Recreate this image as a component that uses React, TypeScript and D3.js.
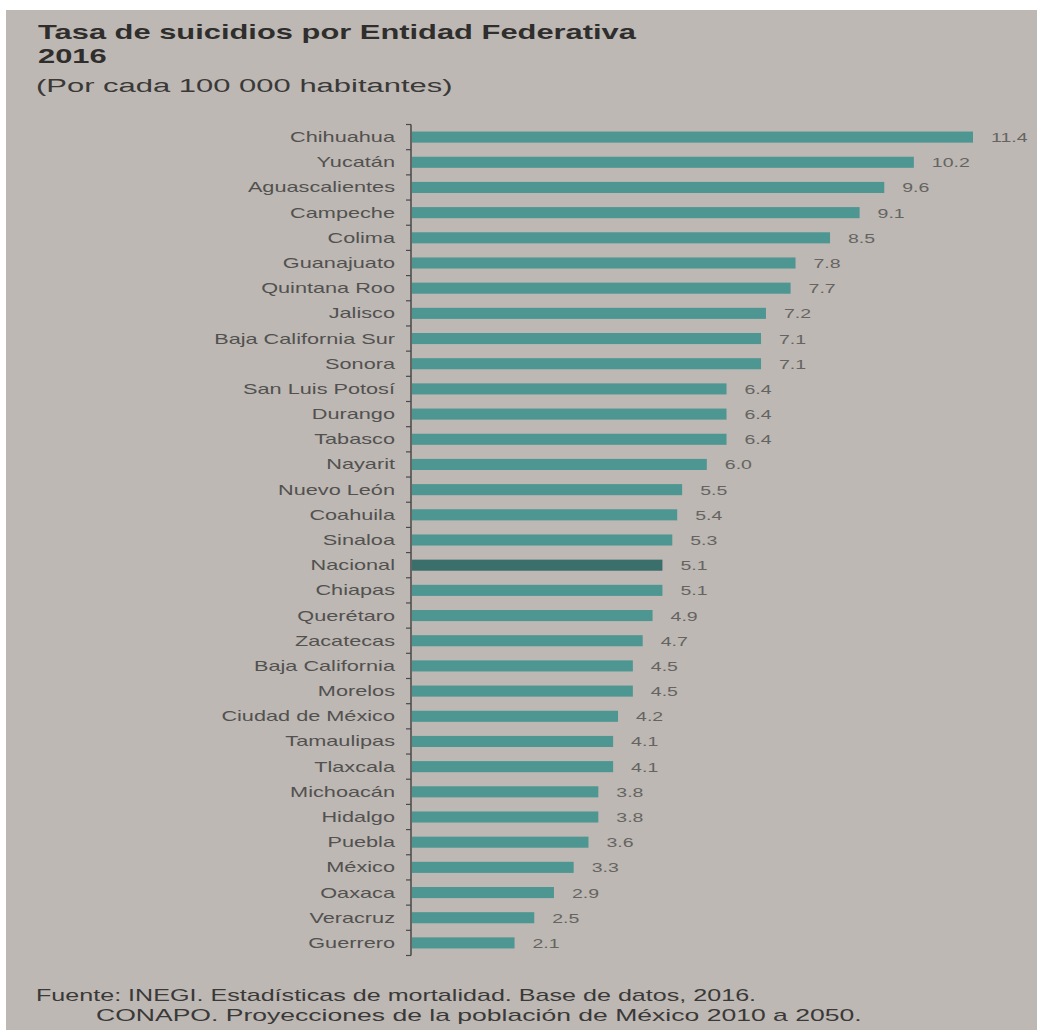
import React from "react";
import * as d3 from "d3";

const states: string[] = [
  "Chihuahua", "Yucatán", "Aguascalientes", "Campeche", "Colima", "Guanajuato",
  "Quintana Roo", "Jalisco", "Baja California Sur", "Sonora", "San Luis Potosí",
  "Durango", "Tabasco", "Nayarit", "Nuevo León", "Coahuila", "Sinaloa", "Nacional",
  "Chiapas", "Querétaro", "Zacatecas", "Baja California", "Morelos",
  "Ciudad de México", "Tamaulipas", "Tlaxcala", "Michoacán", "Hidalgo", "Puebla",
  "México", "Oaxaca", "Veracruz", "Guerrero",
];

const rates: number[] = [
  11.4, 10.2, 9.6, 9.1, 8.5, 7.8, 7.7, 7.2, 7.1, 7.1, 6.4, 6.4, 6.4, 6.0, 5.5, 5.4,
  5.3, 5.1, 5.1, 4.9, 4.7, 4.5, 4.5, 4.2, 4.1, 4.1, 3.8, 3.8, 3.6, 3.3, 2.9, 2.5, 2.1,
];

const highlight = "Nacional";

const titleLines: string[] = ["Tasa de suicidios por Entidad Federativa", "2016"];
const subtitle = "(Por cada 100 000 habitantes)";
const sourceLines: string[] = [
  "Fuente: INEGI. Estadísticas de mortalidad. Base de datos, 2016.",
  "CONAPO. Proyecciones de la población de México 2010 a 2050.",
];

const W = 1037;
const H = 1030;
const FONT = "'Liberation Sans', Arial, sans-serif";

function StretchText(props: {
  x: number; y: number; sx: number; size: number; weight?: string | number;
  fill: string; anchor?: string; children: React.ReactNode;
}) {
  const { x, y, sx, size, weight, fill, anchor, children } = props;
  return (
    <text
      transform={`translate(${x},${y}) scale(${sx},1)`}
      fontFamily={FONT}
      fontSize={size}
      fontWeight={weight ?? "normal"}
      fill={fill}
      textAnchor={anchor ?? "start"}
    >
      {children}
    </text>
  );
}

export default function App() {
  const data = states.map((s, i) => ({ state: s, value: rates[i] }));

  const x = d3.scaleLinear().domain([0, 11.4]).range([411, 973]);
  const y = d3
    .scaleBand<string>()
    .domain(states)
    .range([124, 956])
    .paddingInner(0.56)
    .paddingOuter(0.3);

  const step = y.step();
  const bw = y.bandwidth();
  const tickYs = states.map((s) => (y(s) as number) - (step - bw) / 2);
  tickYs.push((y(states[states.length - 1]) as number) + bw + (step - bw) / 2);
  const fmt = d3.format(".1f");

  return (
    <svg
      width={W}
      height={H}
      style={{ position: "absolute", left: 0, top: 0, background: "#ffffff" }}
    >
      <rect x={6} y={10} width={W - 6} height={H - 10} fill="#bdb8b3" />

      <StretchText x={38} y={39} sx={1.47} size={21} weight="bold" fill="#2f2e2d">
        {titleLines[0]}
      </StretchText>
      <StretchText x={38} y={63} sx={1.47} size={21} weight="bold" fill="#2f2e2d">
        {titleLines[1]}
      </StretchText>
      <StretchText x={36} y={92} sx={1.63} size={19} fill="#3a3938">
        {subtitle}
      </StretchText>

      {data.map((d) => (
        <rect
          key={d.state}
          x={x(0) + 1}
          y={y(d.state)}
          width={x(d.value) - x(0) - 1}
          height={bw}
          fill={d.state === highlight ? "#3a6f6b" : "#4e9692"}
        />
      ))}

      <line x1={x(0)} x2={x(0)} y1={tickYs[0]} y2={tickYs[tickYs.length - 1]} stroke="#4a4a4a" strokeWidth={1.5} />
      {tickYs.map((t, i) => (
        <line key={i} x1={x(0) - 5} x2={x(0)} y1={t} y2={t} stroke="#4a4a4a" strokeWidth={1.2} />
      ))}

      {data.map((d) => (
        <StretchText
          key={"l" + d.state}
          x={395}
          y={(y(d.state) as number) + bw / 2 + 5}
          sx={1.55}
          size={14}
          fill="#525150"
          anchor="end"
        >
          {d.state}
        </StretchText>
      ))}

      {data.map((d) => (
        <StretchText
          key={"v" + d.state}
          x={x(d.value) + 18}
          y={(y(d.state) as number) + bw / 2 + 5}
          sx={1.5}
          size={13}
          fill="#656462"
        >
          {fmt(d.value)}
        </StretchText>
      ))}

      <StretchText x={36} y={1001} sx={1.57} size={16} fill="#3a3938">
        {sourceLines[0]}
      </StretchText>
      <StretchText x={96} y={1021} sx={1.66} size={16} fill="#3a3938">
        {sourceLines[1]}
      </StretchText>
    </svg>
  );
}
